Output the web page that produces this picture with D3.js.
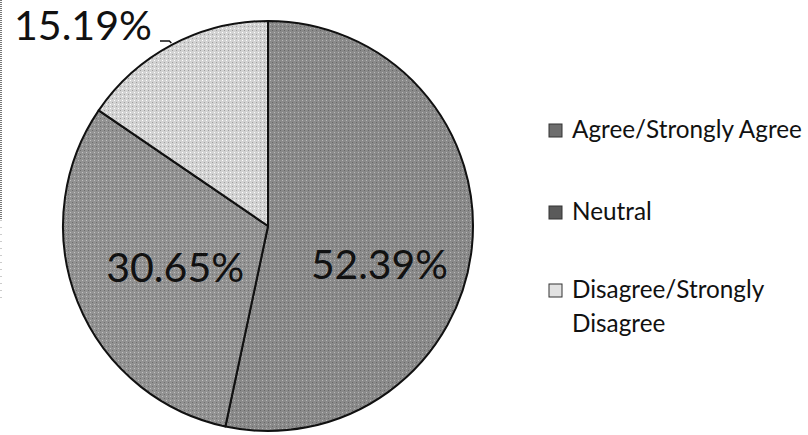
<!DOCTYPE html>
<html>
<head>
<meta charset="utf-8">
<script src="https://cdn.jsdelivr.net/npm/d3@7"></script>
<style>
  html, body { margin: 0; padding: 0; background: #fff; }
  svg { display: block; }
  text { font-family: "Lato", "Open Sans", sans-serif; fill: #111; }
</style>
</head>
<body>
<svg id="chart" width="808" height="435"></svg>
<script>
const categories = ["Agree/Strongly Agree", "Neutral", "Disagree/Strongly Disagree"];
const legendLines = [["Agree/Strongly Agree"], ["Neutral"], ["Disagree/Strongly", "Disagree"]];
const values = [52.39, 30.65, 15.19];
const valueLabels = ["52.39%", "30.65%", "15.19%"];
const colors = ["#8a8a8a", "#929292", "#d2d2d2"];
const markerColors = ["#6e6e6e", "#5a5a5a", "#e2e2e2"];

const svg = d3.select("#chart");
const W = 808, H = 435;
const cx = 268, cy = 226, R = 205;

// textured look
const defs = svg.append("defs");
colors.forEach((c, i) => {
  const p = defs.append("pattern").attr("id", "pat" + i)
    .attr("patternUnits", "userSpaceOnUse").attr("width", 4).attr("height", 4);
  p.append("rect").attr("width", 4).attr("height", 4).attr("fill", c);
  const d = d3.color(c);
  p.append("rect").attr("x", 0).attr("y", 0).attr("width", 1).attr("height", 1)
    .attr("fill", d.darker(0.8));
  p.append("rect").attr("x", 2).attr("y", 2).attr("width", 1).attr("height", 1)
    .attr("fill", d.brighter(0.8));
});

// scanned left border
svg.append("line").attr("x1", 1).attr("x2", 1).attr("y1", 0).attr("y2", 220)
  .attr("stroke", "#777").attr("stroke-width", 2).attr("stroke-dasharray", "1,1");
svg.append("line").attr("x1", 1).attr("x2", 1).attr("y1", 220).attr("y2", 300)
  .attr("stroke", "#999").attr("stroke-width", 1).attr("stroke-dasharray", "1,6");

const pie = d3.pie().sort(null).value(d => d)(values);
const arc = d3.arc().innerRadius(0).outerRadius(R);
const g = svg.append("g").attr("transform", `translate(${cx},${cy})`);

g.selectAll("path.slice").data(pie).join("path")
  .attr("class", "slice")
  .attr("d", arc)
  .attr("fill", (d, i) => `url(#pat${i})`)
  .attr("stroke", "#111")
  .attr("stroke-width", 2)
  .attr("stroke-linejoin", "round");

// helper: fit font-size to a target width
function fit(sel, w) {
  const cur = sel.node().getComputedTextLength();
  const fs = parseFloat(sel.attr("font-size"));
  sel.attr("font-size", fs * w / cur);
  return fs * w / cur;
}

// inside labels
const inside = [
  { r: 112, dx: 0, dy: 26, w: 137 },
  { r: 100, dx: 0, dy: 3, w: 138 }
];
inside.forEach((o, i) => {
  const c = d3.arc().innerRadius(o.r).outerRadius(o.r).centroid(pie[i]);
  const t = g.append("text")
    .attr("x", c[0] + o.dx).attr("y", c[1] + o.dy)
    .attr("text-anchor", "middle").attr("dominant-baseline", "central")
    .attr("font-size", 40).text(valueLabels[i]);
  fit(t, o.w);
});

// outside label with leader line
const edge = d3.arc().innerRadius(R + 2).outerRadius(R + 2).centroid(pie[2]);
const lt = svg.append("text").attr("x", 14).attr("y", 40)
  .attr("font-size", 40).text(valueLabels[2]);
fit(lt, 138);
const lx = 14 + 138 + 8;
svg.append("polyline")
  .attr("points", `${lx},41 ${cx + edge[0] - 2},41 ${cx + edge[0]},${cy + edge[1]}`)
  .attr("fill", "none").attr("stroke", "#111").attr("stroke-width", 1.5);

// legend
const legY = [138, 220, 298];
const leg = svg.append("g");
const probe = leg.append("text").attr("font-size", 22).text(legendLines[0][0]);
const legFs = fit(probe, 230);
probe.remove();
categories.forEach((c, i) => {
  leg.append("rect").attr("x", 549).attr("y", legY[i] - 14).attr("width", 13).attr("height", 13)
    .attr("fill", markerColors[i]).attr("stroke", "#333").attr("stroke-width", 1);
  legendLines[i].forEach((ln, j) => {
    leg.append("text").attr("x", 572).attr("y", legY[i] + j * 34)
      .attr("font-size", legFs).text(ln);
  });
});
</script>
</body>
</html>
